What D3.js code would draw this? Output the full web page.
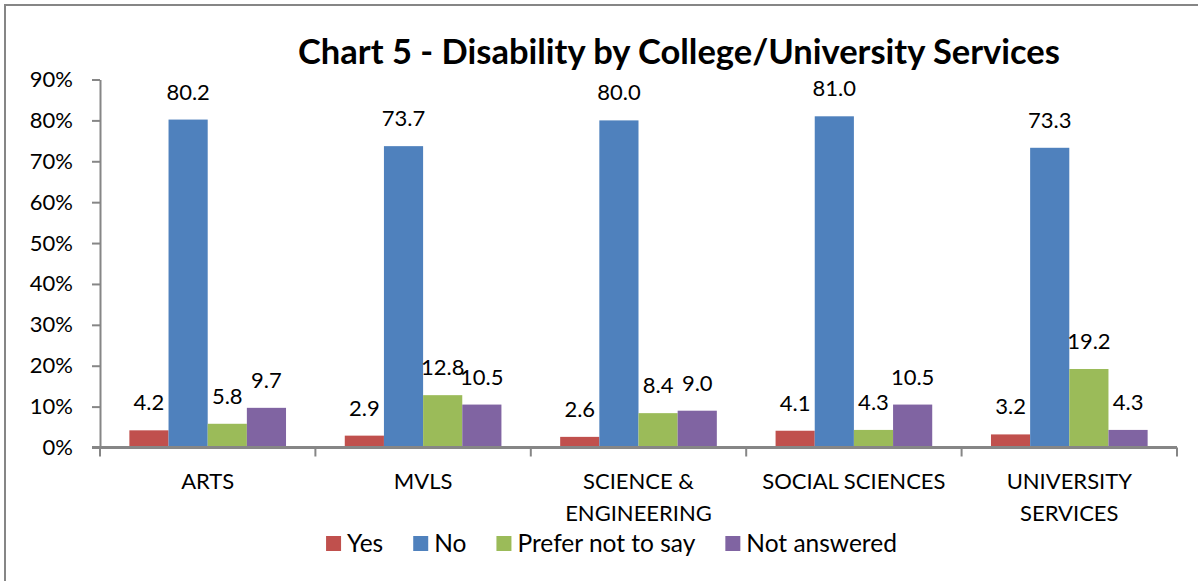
<!DOCTYPE html>
<html>
<head>
  <script src="https://d3js.org/d3.v7.min.js"></script>
  <style>
    body { margin: 0; background: #fff; }
    text { font-family: Lato, "Open Sans", sans-serif; fill: #000; }
  </style>
</head>
<body>
  <script>
    // Chart data
    const categories = ["ARTS", "MVLS", "SCIENCE & ENGINEERING", "SOCIAL SCIENCES", "UNIVERSITY SERVICES"];
    const seriesNames = ["Yes", "No", "Prefer not to say", "Not answered"];
    const yesValues = [4.2, 2.9, 2.6, 4.1, 3.2];
    const noValues = [80.2, 73.7, 80.0, 81.0, 73.3];
    const preferValues = [5.8, 12.8, 8.4, 4.3, 19.2];
    const notAnsweredValues = [9.7, 10.5, 9.0, 10.5, 4.3];
    const yTicks = [0, 10, 20, 30, 40, 50, 60, 70, 80, 90];
    const title = "Chart 5 - Disability by College/University Services";

    const seriesValues = [yesValues, noValues, preferValues, notAnsweredValues];
    const colors = ["#C0504D", "#4F81BD", "#9BBB59", "#8064A2"];

    const W = 1198, H = 581;
    const plot = {left: 100, right: 1177, top: 79.5, bottom: 447.5};

    const svg = d3.select("body").append("svg")
      .attr("width", W)
      .attr("height", H);

    // Chart area border (right and bottom fall outside the picture)
    svg.append("rect")
      .attr("x", 5).attr("y", 5)
      .attr("width", 1400).attr("height", 800)
      .attr("fill", "none")
      .attr("stroke", "#868686")
      .attr("stroke-width", 2);

    // Title
    svg.append("text")
      .attr("x", 679).attr("y", 64)
      .attr("text-anchor", "middle")
      .attr("font-weight", "bold")
      .attr("font-size", 34.5)
      .text(title);

    // Scales
    const x0 = d3.scaleBand()
      .domain(categories)
      .range([plot.left, plot.right])
      .paddingInner(0).paddingOuter(0);

    const x1 = d3.scaleBand()
      .domain(seriesNames)
      .range([0, x0.bandwidth()])
      .paddingInner(0).paddingOuter(0.75);

    const y = d3.scaleLinear()
      .domain([0, 90])
      .range([plot.bottom, plot.top]);

    // Y axis
    const yAxis = svg.append("g")
      .attr("transform", `translate(${plot.left},0)`)
      .call(d3.axisLeft(y).tickValues(yTicks).tickSize(8).tickSizeOuter(0)
        .tickFormat(d => d + "%"));
    yAxis.select(".domain").attr("stroke", "#868686").attr("stroke-width", 2);
    yAxis.selectAll(".tick line").attr("stroke", "#868686").attr("stroke-width", 2);
    yAxis.selectAll(".tick text")
      .attr("x", -27)
      .attr("font-size", 22)
      .style("font-family", "Lato, sans-serif")
      .attr("fill", "#000");

    // Bars
    const groups = svg.append("g").selectAll("g")
      .data(categories)
      .join("g")
        .attr("transform", d => `translate(${x0(d)},0)`);

    groups.selectAll("rect")
      .data((c, i) => seriesNames.map((s, j) => ({s, v: seriesValues[j][i], j})))
      .join("rect")
        .attr("x", d => x1(d.s))
        .attr("y", d => y(d.v))
        .attr("width", x1.bandwidth())
        .attr("height", d => y(0) - y(d.v))
        .attr("fill", d => colors[d.j]);

    // Data labels
    groups.selectAll("text")
      .data((c, i) => seriesNames.map((s, j) => ({s, v: seriesValues[j][i], j})))
      .join("text")
        .attr("x", d => x1(d.s) + x1.bandwidth() / 2)
        .attr("y", d => y(d.v) - 20)
        .attr("text-anchor", "middle")
        .attr("font-size", 22)
        .text(d => d.v.toFixed(1));

    // X axis line and category boundary ticks
    svg.append("line")
      .attr("x1", plot.left - 8).attr("x2", plot.right)
      .attr("y1", plot.bottom).attr("y2", plot.bottom)
      .attr("stroke", "#868686").attr("stroke-width", 3);

    const bounds = categories.map(c => x0(c)).concat([plot.right]);
    svg.append("g").selectAll("line")
      .data(bounds)
      .join("line")
        .attr("x1", d => d).attr("x2", d => d)
        .attr("y1", plot.bottom).attr("y2", plot.bottom + 9)
        .attr("stroke", "#868686").attr("stroke-width", 2);

    // Category labels, wrapped when too wide
    const catLabels = svg.append("g").selectAll("text")
      .data(categories)
      .join("text")
        .attr("text-anchor", "middle")
        .attr("font-size", 22)
        .attr("y", 489);

    catLabels.each(function(c) {
      const t = d3.select(this);
      const cx = x0(c) + x0.bandwidth() / 2;
      const words = c.split(" ");
      let lines = [], line = [];
      const probe = t.append("tspan");
      words.forEach(w => {
        const test = line.concat([w]).join(" ");
        probe.text(test);
        if (probe.node().getComputedTextLength() > 200 && line.length) {
          lines.push(line.join(" "));
          line = [w];
        } else {
          line.push(w);
        }
      });
      lines.push(line.join(" "));
      probe.remove();
      lines.forEach((l, k) => {
        t.append("tspan").attr("x", cx).attr("dy", k ? 32 : 0).text(l);
      });
    });

    // Legend
    const legend = svg.append("g").attr("transform", "translate(0, 543)");
    let lx = 0;
    seriesNames.forEach((s, i) => {
      const g = legend.append("g");
      g.append("rect")
        .attr("y", -7).attr("width", 15).attr("height", 15)
        .attr("fill", colors[i]);
      const t = g.append("text")
        .attr("x", 21).attr("y", 9)
        .attr("font-size", 24.5)
        .text(s);
      const w = 21 + t.node().getComputedTextLength();
      g.attr("transform", `translate(${lx},0)`);
      lx += w + 30;
    });
    const legendWidth = lx - 30;
    legend.attr("transform", `translate(${611.5 - legendWidth / 2}, 543)`);
  </script>
</body>
</html>
